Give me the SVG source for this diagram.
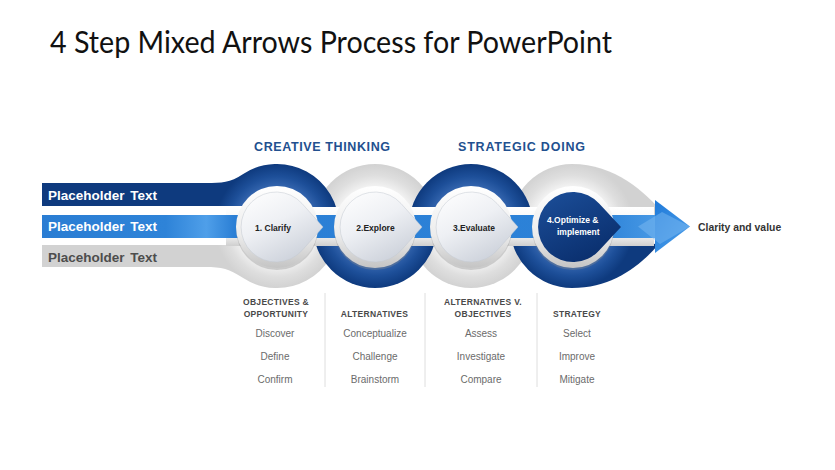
<svg xmlns="http://www.w3.org/2000/svg" width="835" height="470" viewBox="0 0 835 470">
<defs>
<style>
.ph{font-family:"Liberation Sans",Arial,sans-serif;font-weight:bold;font-size:13.5px;word-spacing:2px}
.sec{font-family:"Liberation Sans",Arial,sans-serif;font-weight:bold;font-size:12.5px;fill:#22508f}
.dl{font-family:"Liberation Sans",Arial,sans-serif;font-weight:bold;font-size:8.5px;fill:#222;text-anchor:middle}
.hd{font-family:"Liberation Sans",Arial,sans-serif;font-weight:bold;font-size:8.5px;fill:#4a4a4a;text-anchor:middle;letter-spacing:0.3px}
.it{font-family:"Liberation Sans",Arial,sans-serif;font-size:10px;fill:#6b6b6b;text-anchor:middle}
.sep{stroke:#dedede;stroke-width:1}
.rim{fill:url(#rimg)}
.rsh{fill:#8c8c8c;opacity:.35}
.drop{fill:url(#dropg);stroke:#c3c8d0;stroke-width:.5}
</style>
<radialGradient id="b1" gradientUnits="userSpaceOnUse" cx="277" cy="226" r="62">
<stop offset="0.62" stop-color="#3667b0"/><stop offset="0.8" stop-color="#1d4f99"/><stop offset="1" stop-color="#0e3a7e"/>
</radialGradient>
<radialGradient id="b2" href="#b1" cx="375" cy="226" r="62"/>
<radialGradient id="b3" href="#b1" cx="471" cy="226" r="62"/>
<radialGradient id="b4" href="#b1" cx="572" cy="226" r="62"/>
<radialGradient id="g1" gradientUnits="userSpaceOnUse" cx="277" cy="226" r="62">
<stop offset="0.62" stop-color="#f4f4f4"/><stop offset="0.82" stop-color="#dedede"/><stop offset="1" stop-color="#d2d2d2"/>
</radialGradient>
<radialGradient id="g2" href="#g1" cx="375" cy="226" r="62"/>
<radialGradient id="g3" href="#g1" cx="471" cy="226" r="62"/>
<radialGradient id="g4" href="#g1" cx="572" cy="226" r="62"/>
<linearGradient id="barg" gradientUnits="userSpaceOnUse" x1="42" y1="0" x2="662" y2="0">
<stop offset="0" stop-color="#2a7dd3"/><stop offset="0.2" stop-color="#2e83d8"/><stop offset="0.265" stop-color="#4f9fe9"/><stop offset="0.31" stop-color="#2b7fd5"/><stop offset="0.9" stop-color="#2c82d8"/><stop offset="1" stop-color="#4a9be6"/>
</linearGradient>
<linearGradient id="chan" x1="0" y1="0" x2="0" y2="1">
<stop offset="0" stop-color="#ffffff"/><stop offset="0.75" stop-color="#eeeeee"/><stop offset="1" stop-color="#cfcfcf"/>
</linearGradient>
<linearGradient id="rimg" x1="0" y1="0" x2="0" y2="1">
<stop offset="0" stop-color="#ffffff"/><stop offset="0.6" stop-color="#ececec"/><stop offset="1" stop-color="#c4c4c4"/>
</linearGradient>
<linearGradient id="dropg" x1="0" y1="0" x2="0.6" y2="1">
<stop offset="0" stop-color="#ffffff"/><stop offset="0.5" stop-color="#eef0f4"/><stop offset="1" stop-color="#cdd2db"/>
</linearGradient>
<linearGradient id="dropd" x1="0" y1="0" x2="0.6" y2="1">
<stop offset="0" stop-color="#1c4f9a"/><stop offset="1" stop-color="#0a2f6e"/>
</linearGradient>
<linearGradient id="ahg" x1="0" y1="0" x2="1" y2="1">
<stop offset="0" stop-color="#1f7ad9"/><stop offset="1" stop-color="#4fa0ea"/>
</linearGradient>
</defs>
<rect width="835" height="470" fill="#ffffff"/>

<text x="50" y="53" font-family="Lato,'Open Sans',sans-serif" font-size="30" fill="#111" textLength="562" lengthAdjust="spacingAndGlyphs">4 Step Mixed Arrows Process for PowerPoint</text>

<g id="section-labels">
<text class="sec" x="254" y="151" textLength="136" lengthAdjust="spacing">CREATIVE THINKING</text>
<text class="sec" x="458" y="151" textLength="127" lengthAdjust="spacing">STRATEGIC DOING</text>
</g>

<g id="bands">
<path id="gray1" d="M42 245 L42 267 L205 267 C222 267 229.2 268.9 243.2 278 A62 62 0 0 0 339 226 L277 226 L277 245 Z" fill="url(#g1)"/>
<path id="gray2" d="M313 226 A62 62 0 0 1 437 226 Z" fill="url(#g2)"/>
<path id="gray3" d="M409 226 A62 62 0 0 0 533 226 Z" fill="url(#g3)"/>
<path id="gray4" d="M510 226 A62 62 0 0 1 572 164 C615 164 645 192 664 214 L600 226 Z" fill="url(#g4)"/>
<path id="blue1" d="M42 183 L205 183 C222 183 229.2 183.1 243.2 174 A62 62 0 0 1 339 226 L277 226 L277 206 L42 206 Z" fill="url(#b1)"/>
<path id="blue2" d="M313 226 A62 62 0 0 0 437 226 Z" fill="url(#b2)"/>
<path id="blue3" d="M409 226 A62 62 0 0 1 533 226 Z" fill="url(#b3)"/>
<path id="blue4" d="M510 226 A62 62 0 0 0 572 288 C612 288 640 266 658 245 L600 226 Z" fill="url(#b4)"/>
</g>

<g id="arrow">
<rect x="226" y="207" width="428" height="39" fill="url(#chan)"/>
<rect x="42" y="215" width="620" height="23" fill="url(#barg)"/>
<polygon points="655,200 690,226.5 655,253" fill="url(#ahg)"/>
<polygon points="638,226.5 662,212 690,226.5 660,244" fill="#7cbaf1" opacity="0.5"/>
</g>

<g id="left-labels">
<text class="ph" x="48" y="200" fill="#ffffff">Placeholder Text</text>
<text class="ph" x="48" y="231" fill="#ffffff">Placeholder Text</text>
<text class="ph" x="48" y="262" fill="#4d4d4d">Placeholder Text</text>
</g>

<g id="step1">
<circle class="rsh" cx="277" cy="229" r="41"/>
<circle class="rim" cx="277" cy="227" r="41"/>
<path class="drop" d="M323 227 L302.1 203.6 A35 35 0 1 0 302.1 250.4 Z"/>
<text class="dl" x="273" y="230.5">1. Clarify</text>
</g>
<g id="step2">
<circle class="rsh" cx="375" cy="229" r="41"/>
<circle class="rim" cx="375" cy="227" r="41"/>
<path class="drop" d="M422 227 L401.1 203.6 A35 35 0 1 0 401.1 250.4 Z"/>
<text class="dl" x="375.5" y="230.5">2.Explore</text>
</g>
<g id="step3">
<circle class="rsh" cx="471" cy="229" r="41"/>
<circle class="rim" cx="471" cy="227" r="41"/>
<path class="drop" d="M518 227 L497.1 203.6 A35 35 0 1 0 497.1 250.4 Z"/>
<text class="dl" x="474" y="230.5">3.Evaluate</text>
</g>
<g id="step4">
<circle class="rsh" cx="573" cy="229" r="41"/>
<circle class="rim" cx="573" cy="227" r="41"/>
<path d="M621 227 L599.1 203.6 A35 35 0 1 0 599.1 250.4 Z" fill="url(#dropd)"/>
<text class="dl" x="547" y="223" style="fill:#ffffff;text-anchor:start">4.Optimize &amp;</text>
<text class="dl" x="557" y="235" style="fill:#ffffff;text-anchor:start">implement</text>
</g>

<g id="result">
<text x="698" y="231" font-family="'Liberation Sans',Arial,sans-serif" font-weight="bold" font-size="10.4" fill="#333">Clarity and value</text>
</g>

<g id="separators">
<line class="sep" x1="325" y1="293" x2="325" y2="387"/>
<line class="sep" x1="425" y1="293" x2="425" y2="387"/>
<line class="sep" x1="537" y1="293" x2="537" y2="387"/>
</g>

<g id="col1">
<text class="hd" x="276" y="305">OBJECTIVES &amp;</text>
<text class="hd" x="276" y="317">OPPORTUNITY</text>
<text class="it" x="275" y="337">Discover</text>
<text class="it" x="275" y="360">Define</text>
<text class="it" x="275" y="383">Confirm</text>
</g>
<g id="col2">
<text class="hd" x="374.5" y="317">ALTERNATIVES</text>
<text class="it" x="375" y="337">Conceptualize</text>
<text class="it" x="375" y="360">Challenge</text>
<text class="it" x="375" y="383">Brainstorm</text>
</g>
<g id="col3">
<text class="hd" x="483" y="305">ALTERNATIVES V.</text>
<text class="hd" x="483" y="317">OBJECTIVES</text>
<text class="it" x="481" y="337">Assess</text>
<text class="it" x="481" y="360">Investigate</text>
<text class="it" x="481" y="383">Compare</text>
</g>
<g id="col4">
<text class="hd" x="577" y="317">STRATEGY</text>
<text class="it" x="577" y="337">Select</text>
<text class="it" x="577" y="360">Improve</text>
<text class="it" x="577" y="383">Mitigate</text>
</g>
</svg>
